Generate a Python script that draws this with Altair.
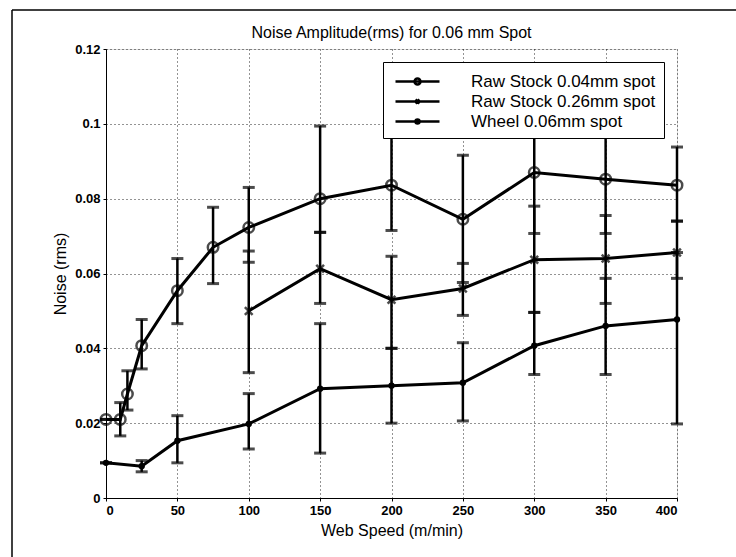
import altair as alt
import pandas as pd

series_names = ["Raw Stock 0.04mm spot", "Raw Stock 0.26mm spot", "Wheel 0.06mm spot"]
chart_title = "Noise Amplitude(rms) for 0.06 mm Spot"

# Raw Stock 0.04mm spot
s1_x = [0, 10, 15, 25, 50, 75, 100, 150, 200, 250, 300, 350, 400]
s1_y = [0.021, 0.021, 0.0278, 0.0407, 0.0554, 0.067, 0.0723, 0.080, 0.0836, 0.0745, 0.087, 0.0852, 0.0836]
s1_lo = [0.021, 0.0166, 0.0235, 0.0345, 0.0466, 0.0573, 0.063, 0.071, 0.0715, 0.0576, 0.0707, 0.0707, 0.074]
s1_hi = [0.021, 0.0255, 0.034, 0.0477, 0.064, 0.0777, 0.083, 0.0994, 0.097, 0.0916, 0.104, 0.100, 0.0938]

# Raw Stock 0.26mm spot
s2_x = [100, 150, 200, 250, 300, 350, 400]
s2_y = [0.050, 0.0613, 0.053, 0.056, 0.0637, 0.064, 0.0656]
s2_lo = [0.0335, 0.052, 0.040, 0.0488, 0.0496, 0.052, 0.0587]
s2_hi = [0.066, 0.071, 0.0646, 0.0627, 0.078, 0.0755, 0.074]

# Wheel 0.06mm spot
s3_x = [0, 25, 50, 100, 150, 200, 250, 300, 350, 400]
s3_y = [0.0094, 0.0085, 0.0153, 0.0198, 0.0292, 0.030, 0.0308, 0.0407, 0.046, 0.0477]
s3_lo = [0.0094, 0.007, 0.0094, 0.0131, 0.012, 0.020, 0.0206, 0.033, 0.033, 0.0198]
s3_hi = [0.0094, 0.010, 0.022, 0.0279, 0.0466, 0.040, 0.0415, 0.0496, 0.0587, 0.0656]

x_ticks = [0, 50, 100, 150, 200, 250, 300, 350, 400]
y_ticks = [0, 0.02, 0.04, 0.06, 0.08, 0.1, 0.12]

rows = []
for name, xs, ys, los, his in [
    (series_names[0], s1_x, s1_y, s1_lo, s1_hi),
    (series_names[1], s2_x, s2_y, s2_lo, s2_hi),
    (series_names[2], s3_x, s3_y, s3_lo, s3_hi),
]:
    for x, y, lo, hi in zip(xs, ys, los, his):
        rows.append({"series": name, "speed": x, "noise": y, "lo": lo, "hi": hi})
df = pd.DataFrame(rows)

FONT = "Liberation Sans"

axis_common = dict(grid=True, gridDash=[1, 3], gridColor="black", gridOpacity=0.85,
                   labelFontSize=13, labelFontWeight="bold", titleFontSize=16,
                   labelColor="black", titleColor="black", domainColor="black",
                   tickColor="black", tickSize=3, titleFont=FONT, labelFont=FONT,
                   titleFontWeight="normal")

xenc = alt.X("speed:Q", scale=alt.Scale(domain=[0, 400], nice=False),
             axis=alt.Axis(values=x_ticks, title="Web Speed (m/min)", labelPadding=3,
                           titlePadding=5, **axis_common))
yscale = alt.Scale(domain=[0, 0.12], nice=False)
yenc = alt.Y("noise:Q", scale=yscale,
             axis=alt.Axis(values=y_ticks, title="Noise (rms)", format="~g",
                           labelPadding=3, titlePadding=6, **axis_common))

base = alt.Chart(df)

err = base.mark_rule(color="black", strokeWidth=2.5).encode(
    x="speed:Q", y=alt.Y("lo:Q", scale=yscale), y2="hi:Q")
cap_lo = base.mark_tick(color="black", thickness=3, size=12, orient="horizontal").encode(
    x="speed:Q", y=alt.Y("lo:Q", scale=yscale))
cap_hi = base.mark_tick(color="black", thickness=3, size=12, orient="horizontal").encode(
    x="speed:Q", y=alt.Y("hi:Q", scale=yscale))

lines = base.mark_line(color="black", strokeWidth=3).encode(
    x=xenc, y=yenc, detail="series:N")

p1 = alt.Chart(df[df.series == series_names[0]]).mark_point(
    shape="circle", filled=False, color="black", size=110, strokeWidth=2.5).encode(
    x="speed:Q", y="noise:Q")
p2 = alt.Chart(df[df.series == series_names[1]]).mark_point(
    shape="M-1,-1L1,1M-1,1L1,-1", filled=False, color="black", size=60, strokeWidth=2.5).encode(
    x="speed:Q", y="noise:Q")
p3 = alt.Chart(df[df.series == series_names[2]]).mark_point(
    shape="circle", filled=True, color="black", size=40, opacity=1).encode(
    x="speed:Q", y="noise:Q")

legend_paths = [
    "M-0.7,0L3.7,0M1.8,0A0.3,0.3 0 1,1 1.2,0A0.3,0.3 0 1,1 1.8,0",
    "M-0.7,0L3.7,0M1.3,-0.2L1.7,0.2M1.3,0.2L1.7,-0.2",
    "M-0.7,0L3.7,0M1.7,0A0.2,0.2 0 1,1 1.3,0A0.2,0.2 0 1,1 1.7,0",
]
leg = base.mark_point(opacity=0, filled=False).encode(
    x="speed:Q", y="noise:Q",
    shape=alt.Shape("series:N", scale=alt.Scale(domain=series_names, range=legend_paths),
                    legend=alt.Legend(title=None, orient="none", legendX=277, legendY=13,
                                      fillColor="white", strokeColor="black", padding=8,
                                      labelFontSize=17, labelFont=FONT, labelColor="black",
                                      labelLimit=0, symbolSize=400, symbolStrokeWidth=2.5,
                                      symbolStrokeColor="black", symbolOpacity=1,
                                      symbolFillColor="black", rowPadding=0,
                                      labelOffset=57)))

one = pd.DataFrame({"t": [chart_title]})
# chart title as a text mark centred over the plot area
title_mark = alt.Chart(one).mark_text(font=FONT, fontSize=16, color="black",
                                      align="center", baseline="alphabetic").encode(
    text="t:N", x=alt.value(285.5), y=alt.value(-11))

# scanned page frame (decoration around the whole figure)
frame_top = alt.Chart(one).mark_rule(color="black", strokeWidth=1.5).encode(
    x=alt.value(-94), x2=alt.value(630), y=alt.value(-39))
frame_left = alt.Chart(one).mark_rule(color="black", strokeWidth=1.5).encode(
    x=alt.value(-94), y=alt.value(-39), y2=alt.value(520))

chart = alt.layer(frame_top, frame_left, title_mark, lines, err, cap_lo, cap_hi,
                  p1, p2, p3, leg).properties(
    width=571, height=449,
    autosize=alt.AutoSizeParams(type="none"),
    padding={"left": 106, "top": 49, "right": 59, "bottom": 59},
).configure_view(stroke="black", strokeWidth=1.5).configure(background="white")

chart.save("out.html", embed_options={"renderer": "svg", "actions": False})
